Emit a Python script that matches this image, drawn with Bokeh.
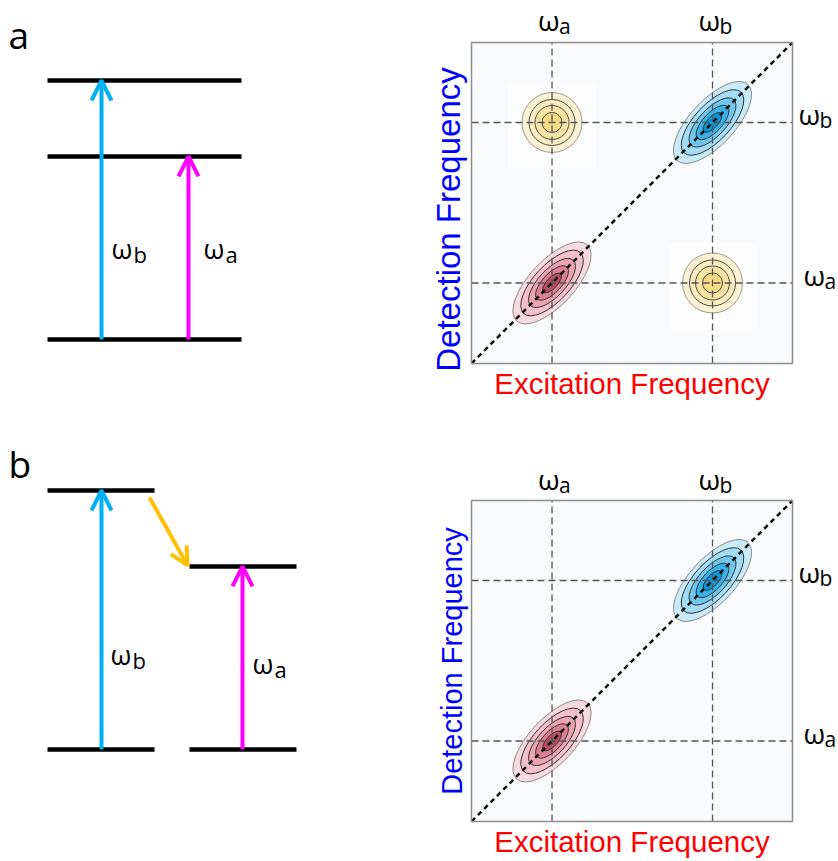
from math import radians, pi

from bokeh.core.properties import value
from bokeh.embed import file_html
from bokeh.layouts import gridplot
from bokeh.models import Arrow, OpenHead, Range1d
from bokeh.plotting import figure
from bokeh.resources import INLINE

# ---------------------------------------------------------------- data
# transition energies (arbitrary units, ground state = 0)
E_A = 0.707
E_B = 1.0

# level schemes: (energy, column)
levels_a = [(0.0, "wide"), (E_A, "wide"), (E_B, "wide")]
levels_b = [(0.0, "left"), (E_B, "left"), (0.0, "right"), (E_A, "right")]

# optical transitions: (column, lower, upper, label subscript)
transitions_a = [("col1", 0.0, E_B, "b"), ("col2a", 0.0, E_A, "a")]
transitions_b = [("col1", 0.0, E_B, "b"), ("col2b", 0.0, E_A, "a")]

# 2D spectra: common frequency window of both axes
FREQ_WINDOW = (0.56, 1.146)
tick_freqs = [E_A, E_B]
tick_subs = ["a", "b"]

# peaks (excitation, detection, kind)
peaks_a_exc = [E_A, E_B, E_A, E_B]
peaks_a_det = [E_A, E_B, E_B, E_A]
peaks_a_kind = ["diag_a", "diag_b", "cross", "cross"]
peaks_b_exc = [E_A, E_B]
peaks_b_det = [E_A, E_B]
peaks_b_kind = ["diag_a", "diag_b"]

# ---------------------------------------------------------------- styles
LABEL_FONT = "Open Sans"
AXIS_FONT = "Liberation Sans"
BLUE = "#00b0f0"
MAGENTA = "#ff00ff"
ORANGE = "#ffc000"
ARROW_COLORS = {"a": MAGENTA, "b": BLUE}

COLUMNS = {"wide": (47, 241), "left": (47, 154), "right": (189, 296)}
ARROW_X = {"col1": 101, "col2a": 188, "col2b": 242}

DIAG_FILLS = {
    "diag_a": ["#f9d9e0", "#f3bfcb", "#eba2b3", "#dc7f96", "#b84e68"],
    "diag_b": ["#c9eaf8", "#a2dbf4", "#6fc7ef", "#38b1e8", "#0d97d8"],
}
CROSS_FILLS = ["#fcf2d2", "#fbedc0", "#f8e4a2", "#f5dc84"]
CONTOUR_SCALE = [1.0, 0.8, 0.6, 0.42, 0.24]
CROSS_RADII_PX = [30, 23, 17, 10]
DIAG_MAJOR_PX, DIAG_MINOR_PX = 104, 45
DIAG_ANGLE = radians(47)

U = 259.0          # px per energy unit in the level schemes
S = 321.0          # side of a 2D spectrum box, px
W0, W1 = FREQ_WINDOW
K = (W1 - W0) / S  # frequency units per px
LIFT = 14          # px: raises text so its baseline lands at the given spot


def base_fig(width, height, xr, yr):
    p = figure(width=width, height=height, x_range=xr, y_range=yr,
               toolbar_location=None, output_backend="svg",
               x_axis_location=None, y_axis_location=None,
               min_border=0, outline_line_color=None,
               background_fill_color="white", border_fill_color="white")
    p.grid.grid_line_color = None
    return p


def txt(p, x, y, s, size, font=LABEL_FONT, color="black", align="left",
        angle=0.0):
    p.text(x=[x], y=[y], text=[s], text_font=value(font), text_font_size=size,
           text_color=color, text_align=align, text_baseline="alphabetic",
           angle=angle)


def omega(p, x, y, sub, kx, ky, size, sub_size, sub_dx, sub_dy):
    """Draw ω with a lowered subscript; offsets given in px."""
    txt(p, x, y + LIFT * ky, "ω", size)
    txt(p, x + sub_dx * kx, y + (LIFT - sub_dy) * ky, sub, sub_size)


# ---------------------------------------------------------------- level schemes
def level_scheme(height, ground_px, letter, letter_base_px, levels, transitions,
                 label_pos, relax=None):
    p = base_fig(420, height, Range1d(0, 420),
                 Range1d(-(height - ground_px) / U, ground_px / U))

    def ey(px):
        return (ground_px - px) / U

    txt(p, 8, ey(letter_base_px - LIFT), letter, "37px")

    x0 = [COLUMNS[c][0] for _, c in levels]
    x1 = [COLUMNS[c][1] for _, c in levels]
    ys = [e for e, _ in levels]
    p.segment(x0=x0, y0=ys, x1=x1, y1=ys, line_color="black", line_width=4.5,
              line_cap="butt")

    for col, lo, hi, sub in transitions:
        c = ARROW_COLORS[sub]
        x = ARROW_X[col]
        p.add_layout(Arrow(x_start=x, y_start=lo, x_end=x, y_end=hi,
                           line_color=c, line_width=4,
                           end=OpenHead(size=20, line_color=c, line_width=4)))
        lx, lb = label_pos[sub]
        omega(p, x + lx, ey(lb), sub, 1.0, 1.0 / U, "27px", "22px", 22, 5)

    if relax is not None:
        (xs, ys_), (xe, ye) = relax
        p.add_layout(Arrow(x_start=xs, y_start=ys_, x_end=xe, y_end=ye,
                           line_color=ORANGE, line_width=4,
                           end=OpenHead(size=18, line_color=ORANGE, line_width=4)))
    return p


# ---------------------------------------------------------------- 2D spectra
def spectrum(height, top_px, exc, det, kinds, top_gap, det_size, det_base, det_shift):
    bottom_px = top_px + S
    p = base_fig(418, height,
                 Range1d(W0 - 51 * K, W0 + (418 - 51) * K),
                 Range1d(W0 - (height - bottom_px) * K, W1 + top_px * K))

    # frame background
    p.quad(left=[W0], right=[W1], bottom=[W0], top=[W1],
           fill_color="#f8fafc", line_color=None)

    # cross peaks: concentric rings
    for x, y, k in zip(exc, det, kinds):
        if k != "cross":
            continue
        p.rect(x=[x], y=[y - 3 * K], width=88 * K, height=86 * K,
               fill_color="#fdfdfd", line_color=None)
        for i, (r, c) in enumerate(zip(CROSS_RADII_PX, CROSS_FILLS)):
            p.circle(x=[x], y=[y], radius=r * K, fill_color=c,
                     line_color="#9a9a9a" if i == 0 else "#4a4a4a", line_width=1)

    # diagonal peaks: nested tilted ellipses
    for x, y, k in zip(exc, det, kinds):
        if k == "cross":
            continue
        for i, (f, c) in enumerate(zip(CONTOUR_SCALE, DIAG_FILLS[k])):
            p.ellipse(x=[x], y=[y], width=DIAG_MAJOR_PX * K * f,
                      height=DIAG_MINOR_PX * K * f, angle=DIAG_ANGLE,
                      fill_color=c, line_color="#8a8a8a" if i == 0 else "#333333",
                      line_width=1)

    # guide lines at the transition frequencies
    n = len(tick_freqs)
    p.segment(x0=tick_freqs, y0=[W0] * n, x1=tick_freqs, y1=[W1] * n,
              line_color="#555555", line_width=1.3, line_dash="7 4")
    p.segment(x0=[W0] * n, y0=tick_freqs, x1=[W1] * n, y1=tick_freqs,
              line_color="#555555", line_width=1.3, line_dash="7 4")

    # diagonal
    p.line(x=[W0, W1], y=[W0, W1], line_color="#111111", line_width=2.5,
           line_dash="5 4")

    # frame border
    p.quad(left=[W0], right=[W1], bottom=[W0], top=[W1],
           fill_color=None, line_color="#8c8c8c", line_width=1.5)

    # frequency labels, top and right
    right_gap = {"a": 11, "b": 6}
    for f, sub in zip(tick_freqs, tick_subs):
        omega(p, f - 14 * K, W1 + top_gap * K, sub, K, K, "28px", "21px", 21, 6)
        omega(p, W1 + right_gap[sub] * K, f - 6 * K, sub, K, K, "28px", "21px", 21, 6)

    # axis titles
    txt(p, (W0 + W1) / 2, W0 - (34 - LIFT) * K, "Excitation Frequency", "29.5px",
        font=AXIS_FONT, color="#ff0000", align="center")
    txt(p, W0 - (det_base + LIFT) * K, (W0 + W1) / 2 - det_shift * K,
        "Detection Frequency", det_size, font=AXIS_FONT, color="#0000ff",
        align="center", angle=pi / 2)
    return p


# panel a: three-level system
diag_a = level_scheme(430, 339, "a", 48, levels_a, transitions_a,
                      {"b": (10, 262), "a": (15, 262)})
spec_a = spectrum(430, 42, peaks_a_exc, peaks_a_det, peaks_a_kind,
                  top_gap=9, det_size="33px", det_base=9, det_shift=16.5)

# panel b: two coupled two-level systems with downhill transfer
relax_b = ((149, E_B - 7 / U), (187, E_A + 1 / U))
diag_b = level_scheme(431, 319, "b", 47, levels_b, transitions_b,
                      {"b": (9, 238), "a": (10, 247)}, relax=relax_b)
spec_b = spectrum(431, 70, peaks_b_exc, peaks_b_det, peaks_b_kind,
                  top_gap=8, det_size="29px", det_base=6, det_shift=0)

layout = gridplot([[diag_a, spec_a], [diag_b, spec_b]], toolbar_location=None)

open("out.html", "w").write(file_html(layout, INLINE))
